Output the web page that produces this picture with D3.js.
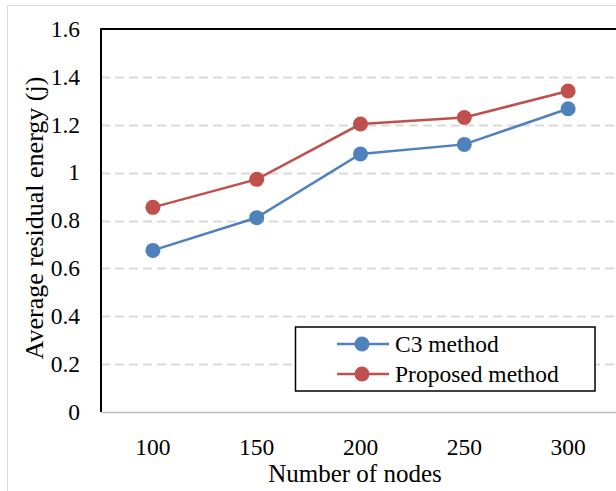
<!DOCTYPE html>
<html>
<head>
<meta charset="utf-8">
<script src="https://cdn.jsdelivr.net/npm/d3@7"></script>
<style>
  body { margin: 0; background: #fff; }
  text { font-family: "Liberation Serif", "Times New Roman", serif; fill: #000; }
</style>
</head>
<body>
<script>
// chart data
var nodes = ["100", "150", "200", "250", "300"];
var c3Values = [0.675, 0.812, 1.078, 1.118, 1.267];
var proposedValues = [0.855, 0.972, 1.203, 1.230, 1.341];
var yTicks = [0, 0.2, 0.4, 0.6, 0.8, 1, 1.2, 1.4, 1.6];
var seriesNames = ["C3 method", "Proposed method"];
var seriesColors = ["#4f81bd", "#c0504d"];

var W = 616, H = 491;
var margin = {top: 29, right: -4, bottom: 79, left: 101};

var svg = d3.select("body").append("svg")
  .attr("width", W)
  .attr("height", H);

// outer chart frame
svg.append("rect")
  .attr("x", 7.5).attr("y", 5.5)
  .attr("width", W + 20).attr("height", H + 20)
  .attr("fill", "none").attr("stroke", "#d9d9d9");

var x = d3.scaleBand()
  .domain(nodes)
  .range([margin.left, W - margin.right]);

var y = d3.scaleLinear()
  .domain([0, 1.6])
  .range([H - margin.bottom, margin.top]);

// dashed gridlines
svg.append("g")
  .selectAll("line")
  .data(yTicks.filter(function(d){ return d > 0 && d < 1.6; }))
  .enter().append("line")
    .attr("x1", margin.left).attr("x2", W - margin.right)
    .attr("y1", function(d){ return Math.round(y(d)) + 0.5; })
    .attr("y2", function(d){ return Math.round(y(d)) + 0.5; })
    .attr("stroke", "#d9d9d9")
    .attr("stroke-width", 1.8)
    .attr("stroke-dasharray", "9,5");

// plot frame: black top and left, grey bottom axis
svg.append("line")
  .attr("x1", margin.left).attr("x2", W - margin.right)
  .attr("y1", y(1.6)).attr("y2", y(1.6))
  .attr("stroke", "#000").attr("stroke-width", 2);
svg.append("line")
  .attr("x1", margin.left).attr("x2", margin.left)
  .attr("y1", y(1.6) - 1).attr("y2", y(0))
  .attr("stroke", "#000").attr("stroke-width", 2);
svg.append("line")
  .attr("x1", margin.left).attr("x2", W - margin.right)
  .attr("y1", y(0) + 0.5).attr("y2", y(0) + 0.5)
  .attr("stroke", "#bfbfbf").attr("stroke-width", 1.5);

// y tick labels
svg.append("g")
  .selectAll("text")
  .data(yTicks)
  .enter().append("text")
    .attr("x", 80)
    .attr("y", function(d){ return y(d); })
    .attr("dy", "0.33em")
    .attr("text-anchor", "end")
    .style("font-size", "23.5px")
    .text(function(d){ return d3.format("")(+d.toFixed(1)); });

// x tick labels
svg.append("g")
  .selectAll("text")
  .data(nodes)
  .enter().append("text")
    .attr("x", function(d){ return x(d) + x.bandwidth() / 2; })
    .attr("y", 455)
    .attr("text-anchor", "middle")
    .style("font-size", "23.5px")
    .text(function(d){ return d; });

// axis titles
svg.append("text")
  .attr("x", 355).attr("y", 482)
  .attr("text-anchor", "middle")
  .style("font-size", "25px")
  .text("Number of nodes");

svg.append("text")
  .attr("transform", "translate(43," + 218 + ") rotate(-90)")
  .attr("text-anchor", "middle")
  .style("font-size", "26px")
  .text("Average residual energy (j)");

// series lines and markers
var line = d3.line()
  .x(function(d, i){ return x(nodes[i]) + x.bandwidth() / 2; })
  .y(function(d){ return y(d); });

[c3Values, proposedValues].forEach(function(vals, k) {
  svg.append("path")
    .datum(vals)
    .attr("d", line)
    .attr("fill", "none")
    .attr("stroke", seriesColors[k])
    .attr("stroke-width", 2.5);

  svg.append("g")
    .selectAll("circle")
    .data(vals)
    .enter().append("circle")
      .attr("cx", function(d, i){ return x(nodes[i]) + x.bandwidth() / 2; })
      .attr("cy", function(d){ return y(d); })
      .attr("r", 7.5)
      .attr("fill", seriesColors[k]);
});

// legend
var legend = svg.append("g");
legend.append("rect")
  .attr("x", 295.5).attr("y", 327)
  .attr("width", 299.5).attr("height", 64)
  .attr("fill", "#fff")
  .attr("stroke", "#000").attr("stroke-width", 1.5);

seriesNames.forEach(function(name, k) {
  var ly = 344 + k * 30;
  legend.append("line")
    .attr("x1", 337).attr("x2", 389)
    .attr("y1", ly).attr("y2", ly)
    .attr("stroke", seriesColors[k]).attr("stroke-width", 2.5);
  legend.append("circle")
    .attr("cx", 362).attr("cy", ly).attr("r", 7.5)
    .attr("fill", seriesColors[k]);
  legend.append("text")
    .attr("x", 395).attr("y", ly + 8)
    .style("font-size", "23.5px")
    .text(name);
});
</script>
</body>
</html>
